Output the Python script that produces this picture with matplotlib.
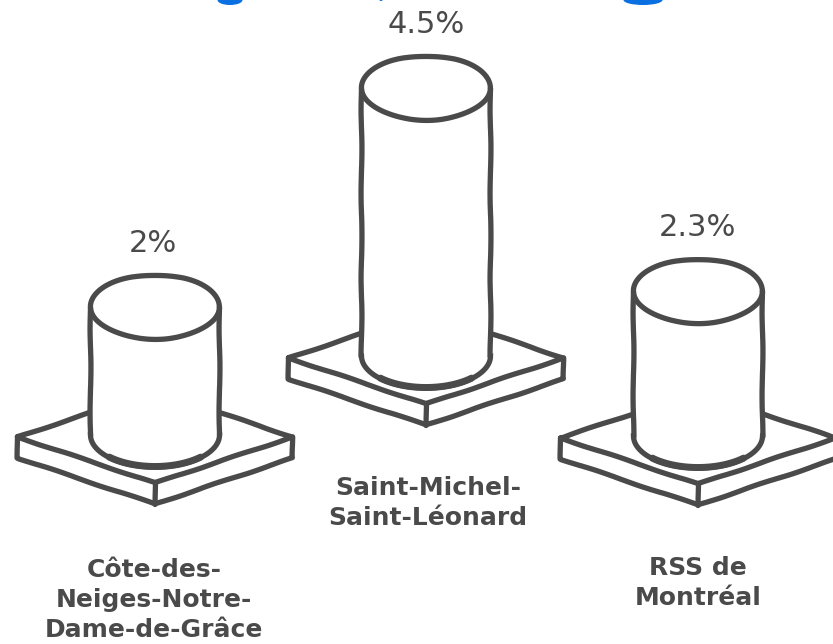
import numpy as np
import matplotlib.pyplot as plt
from matplotlib.patches import Ellipse

# hand drawn cylinders on little plates, title is cut off at the top edge
categories = ['Côte-des-\nNeiges-Notre-\nDame-de-Grâce', 'Saint-Michel-\nSaint-Léonard', 'RSS de\nMontréal']
values = [2.0, 4.5, 2.3]
value_labels = ['2%', '4.5%', '2.3%']

# layout, in pixels of the 833x644 picture
centers = [155, 426, 698]
base_y = [435, 356, 436]
label_y = [600, 503, 583]
label_x = [154, 428, 698]
value_y = [243, 24, 227]
value_x = [153, 426, 697]

PX_PER_UNIT = 56
CYL_FOOT = 16
RX, RY = 64.5, 32
PLATE_W, PLATE_H, PLATE_T = 137.5, 46, 21
INK = '#4a4a4a'
BLUE = '#0a6fe0'
LW = 3.8


def line(ax, x, y, lw=LW, z=3):
    l, = ax.plot(x, y, color=INK, lw=lw, solid_capstyle='round', solid_joinstyle='round', zorder=z)
    l.set_sketch_params(0.45, 90, 2)
    return l


def plate(ax, cx, cy):
    # cy is the height of the left and right corners
    xs = [cx - PLATE_W, cx, cx + PLATE_W, cx, cx - PLATE_W]
    ys = [cy, cy + PLATE_H, cy, cy - PLATE_H, cy]
    ax.fill(xs, ys, color='white', zorder=1)
    line(ax, xs, ys, z=1)
    line(ax, [cx - PLATE_W, cx - PLATE_W, cx, cx + PLATE_W, cx + PLATE_W],
         [cy, cy + PLATE_T, cy + PLATE_H + PLATE_T, cy + PLATE_T, cy], z=1)
    line(ax, [cx, cx], [cy + PLATE_H, cy + PLATE_H + PLATE_T], z=1)


def cylinder(ax, cx, y_bottom, value):
    y_top = y_bottom - (CYL_FOOT + PX_PER_UNIT * value)
    t = np.linspace(0, np.pi, 60)
    ax.fill(np.r_[cx + RX * np.cos(t), cx - RX * np.cos(t)],
            np.r_[y_bottom + RY * np.sin(t), y_top - RY * np.sin(t)],
            color='white', zorder=2)
    # sides
    line(ax, [cx - RX, cx - RX], [y_top, y_bottom])
    line(ax, [cx + RX, cx + RX], [y_top, y_bottom])
    # bottom arc, heavier at the front
    ax.plot(cx + RX * np.cos(t), y_bottom + RY * np.sin(t), color=INK, lw=LW, zorder=3)
    tf = np.linspace(0.25 * np.pi, 0.75 * np.pi, 30)
    ax.plot(cx + RX * np.cos(tf), y_bottom + RY * np.sin(tf) - 0.5, color=INK, lw=LW + 1.2,
            solid_capstyle='round', zorder=3)
    # top ellipse
    t2 = np.linspace(0, 2 * np.pi, 120)
    line(ax, cx + RX * np.cos(t2), y_top + RY * np.sin(t2))


fig = plt.figure(figsize=(8.33, 6.44), dpi=100)
ax = fig.add_axes([0, 0, 1, 1])
ax.set_xlim(0, 833)
ax.set_ylim(644, 0)
ax.axis('off')

for cx, by in zip(centers, base_y):
    plate(ax, cx, by + 2)

for cx, by, v in zip(centers, base_y, values):
    cylinder(ax, cx, by, v)

for x, y, s in zip(value_x, value_y, value_labels):
    ax.text(x, y, s, ha='center', va='center', fontsize=22, color=INK, family='DejaVu Sans')

for x, y, s in zip(label_x, label_y, categories):
    ax.text(x, y, s, ha='center', va='center', fontsize=18, color=INK, family='DejaVu Sans',
            fontweight='bold', linespacing=1.3)

# what is left of the cut off title: descenders only
for x, w, h in [(230, 25, 10), (643, 39, 10), (381, 3, 2)]:
    ax.add_patch(Ellipse((x, 0), w, h, color=BLUE, lw=0, zorder=5))

fig.savefig('out.png', dpi=100)
